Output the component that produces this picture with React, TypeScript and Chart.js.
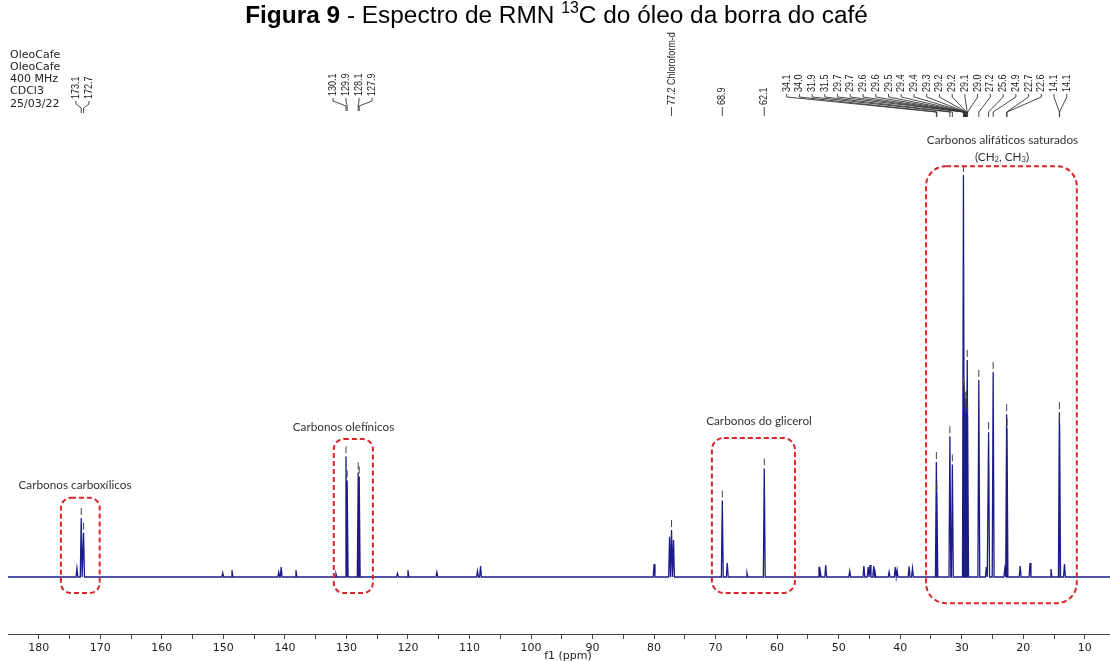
import React, { useEffect, useRef } from "react";
import { Chart, registerables } from "chart.js";

Chart.register(...registerables);

// ---- data (ppm, relative intensity, tallest = 100) ----
const peakShift = [
  173.8, 173.1, 172.72, 150.1, 148.6, 141.0, 140.6, 138.2, 131.7, 130.07, 129.88,
  128.08, 127.92, 121.7, 120.0, 115.3, 108.7, 108.2, 80.0, 77.48, 77.16, 76.84,
  68.91, 68.1, 64.9, 62.09, 53.2, 53.0, 52.1, 48.2, 45.9, 45.2, 44.9, 44.3, 44.1,
  41.8, 40.8, 40.5, 38.55, 38.0, 34.12, 34.04, 31.92, 31.52, 29.72, 29.68, 29.62,
  29.57, 29.53, 29.43, 29.38, 29.34, 29.23, 29.2, 29.1, 29.04, 27.22, 26.0, 25.63,
  24.89, 23.0, 22.7, 22.64, 20.5, 18.9, 15.5, 14.13, 14.09, 13.3,
];
const peakHeight = [
  2.2, 14.7, 11, 1.0, 1.7, 1.2, 2.5, 1.7, 0.8, 30, 24,
  26, 25, 0.9, 1.7, 1.2, 1.5, 2.7, 3.2, 10, 11.7, 9.2,
  19, 3.5, 1.0, 27, 2.5, 1.5, 3.0, 1.5, 2.7, 2.5, 3.0, 2.7, 2.0,
  1.3, 2.5, 1.7, 2.6, 2.2, 28.6, 21, 35, 28, 100, 47, 46,
  44, 45, 42, 40, 41, 44, 42, 54, 40, 49, 2.5, 36,
  51, 2.0, 40.5, 37, 2.7, 3.5, 2.0, 41, 38, 3.2,
];

// picked peaks shown as labels above the spectrum
const pickCarboxyl = [173.1, 172.72];
const pickOlefin = [130.07, 129.88, 128.08, 127.92];
const pickSingle = [77.16, 68.91, 62.09];
const singleSuffix = [" Chloroform-d", "", ""];
const pickAliphatic = [
  34.12, 34.04, 31.92, 31.52, 29.72, 29.68, 29.62, 29.57, 29.53, 29.43, 29.38,
  29.34, 29.23, 29.2, 29.1, 29.04, 27.22, 25.63, 24.89, 22.7, 22.64, 14.13, 14.09,
];

const xTickValues = [180, 170, 160, 150, 140, 130, 120, 110, 100, 90, 80, 70, 60, 50, 40, 30, 20, 10];
const infoLines = ["OleoCafe", "OleoCafe", "400 MHz", "CDCl3", "25/03/22"];

const X_MIN = 5.9;
const X_MAX = 185;
const PEAK_HALF_WIDTH = 0.15;

function buildPoints() {
  const order = peakShift.map((_, i) => i).sort((a, b) => peakShift[b] - peakShift[a]);
  const pts: { x: number; y: number }[] = [{ x: X_MAX, y: 0 }];
  for (const i of order) {
    pts.push({ x: peakShift[i] + PEAK_HALF_WIDTH, y: 0 });
    pts.push({ x: peakShift[i], y: peakHeight[i] });
    pts.push({ x: peakShift[i] - PEAK_HALF_WIDTH, y: 0 });
  }
  pts.push({ x: X_MIN, y: 0 });
  return pts;
}

function heightAt(s: number) {
  let best = 0;
  let d = Infinity;
  peakShift.forEach((p, i) => {
    if (Math.abs(p - s) < d) {
      d = Math.abs(p - s);
      best = i;
    }
  });
  return peakHeight[best];
}

const RED = "#d8262a";
const NAVY = "#1c1c88";

const overlay = {
  id: "overlay",
  afterDraw(chart: any) {
    const ctx: CanvasRenderingContext2D = chart.ctx;
    const xs = chart.scales.x;
    const ys = chart.scales.y;
    const X = (v: number) => xs.getPixelForValue(v);
    const Y = (v: number) => ys.getPixelForValue(v);
    ctx.save();

    // ---- title ----
    const parts = [
      { t: "Figura 9", w: "bold", sup: false },
      { t: " - Espectro de RMN ", w: "normal", sup: false },
      { t: "13", w: "normal", sup: true },
      { t: "C do óleo da borra do café", w: "normal", sup: false },
    ];
    const fam = "'Liberation Sans', Arial, sans-serif";
    const measure = (sz: number) =>
      parts.reduce((acc, p) => {
        ctx.font = `${p.w} ${p.sup ? sz * 0.65 : sz}px ${fam}`;
        return acc + ctx.measureText(p.t).width;
      }, 0);
    const tSize = (21 * 623) / measure(21);
    let tx = 556.5 - measure(tSize) / 2;
    ctx.fillStyle = "#000";
    ctx.textBaseline = "alphabetic";
    ctx.textAlign = "left";
    for (const p of parts) {
      const sz = p.sup ? tSize * 0.65 : tSize;
      ctx.font = `${p.w} ${sz}px ${fam}`;
      ctx.fillText(p.t, tx, p.sup ? 23 - tSize * 0.4 : 23);
      tx += ctx.measureText(p.t).width;
    }

    // ---- info text ----
    ctx.font = "11px 'DejaVu Sans', sans-serif";
    ctx.fillStyle = "#222";
    ctx.textBaseline = "middle";
    const infoY = [55, 67, 79, 91.5, 104];
    infoLines.forEach((l, i) => ctx.fillText(l, 10, infoY[i]));

    // ---- peak labels ----
    const lblFont = "11px 'Liberation Sans', Arial, sans-serif";
    const drawRot = (text: string, x: number, yb: number) => {
      ctx.save();
      ctx.translate(x, yb);
      ctx.rotate(-Math.PI / 2);
      ctx.scale(0.82, 1);
      ctx.font = lblFont;
      ctx.fillStyle = "#222";
      ctx.textAlign = "left";
      ctx.textBaseline = "middle";
      ctx.fillText(text, 0, 0);
      ctx.restore();
    };
    ctx.strokeStyle = "#333";
    ctx.lineWidth = 0.9;
    const line = (pts: number[][]) => {
      ctx.beginPath();
      ctx.moveTo(pts[0][0], pts[0][1]);
      for (let i = 1; i < pts.length; i++) ctx.lineTo(pts[i][0], pts[i][1]);
      ctx.stroke();
    };
    const group = (shifts: number[], startX: number, step: number, yb: number, yc: number) => {
      shifts.forEach((s, i) => {
        const lx = startX + i * step;
        const px = X(s);
        drawRot(s.toFixed(1), lx, yb);
        line([
          [lx, yb + 2],
          [lx, yb + 5],
          [px, yc],
          [px, yc + 5],
        ]);
      });
    };
    group(pickCarboxyl, 76, 13, 99, 108);
    group(pickOlefin, 333, 13, 96, 106);
    group(pickAliphatic, 786.7, 12.73, 92, 112);
    pickSingle.forEach((s, i) => {
      const px = X(s);
      drawRot(s.toFixed(1) + singleSuffix[i], px, 105);
      line([
        [px, 107],
        [px, 116],
      ]);
    });

    // ---- peak pick markers ----
    ctx.strokeStyle = "#444";
    ctx.lineWidth = 1;
    [...pickCarboxyl, ...pickOlefin, ...pickSingle, ...pickAliphatic].forEach((s) => {
      const px = X(s);
      const py = Y(heightAt(s));
      line([
        [px, py - 3],
        [px, py - 10],
      ]);
    });

    // ---- dashed boxes ----
    const boxes = [
      { x0: 176.4, x1: 170.1, y0: 19.7, y1: -4.0, r: 10 },
      { x0: 132.05, x1: 125.7, y0: 34.3, y1: -4.0, r: 10 },
      { x0: 70.6, x1: 57.1, y0: 34.6, y1: -4.0, r: 12 },
      { x0: 35.8, x1: 11.3, y0: 102.2, y1: -6.5, r: 20 },
    ];
    ctx.strokeStyle = RED;
    ctx.lineWidth = 2;
    ctx.setLineDash([5, 3]);
    boxes.forEach((b) => {
      const l = X(b.x0), r = X(b.x1), t = Y(b.y0), bt = Y(b.y1);
      ctx.beginPath();
      (ctx as any).roundRect(l, t, r - l, bt - t, b.r);
      ctx.stroke();
    });
    ctx.setLineDash([]);

    // ---- annotation texts ----
    const aFam = "Lato, 'Open Sans', sans-serif";
    ctx.font = `12px ${aFam}`;
    const aSize = (12 * 113) / ctx.measureText("Carbonos carboxílicos").width;
    ctx.font = `${aSize}px ${aFam}`;
    ctx.fillStyle = "#333";
    ctx.textAlign = "center";
    ctx.textBaseline = "middle";
    ctx.fillText("Carbonos carboxílicos", 75, 485);
    ctx.fillText("Carbonos olefínicos", 343.5, 427);
    ctx.fillText("Carbonos do glicerol", 759, 421);
    ctx.fillText("Carbonos alifáticos saturados", 1002.5, 140);
    // (CH2, CH3)
    const segs = [
      { t: "(CH", sub: false },
      { t: "2", sub: true },
      { t: ", CH", sub: false },
      { t: "3", sub: true },
      { t: ")", sub: false },
    ];
    const sw = segs.reduce((a, s) => {
      ctx.font = `${s.sub ? aSize * 0.65 : aSize}px ${aFam}`;
      return a + ctx.measureText(s.t).width;
    }, 0);
    let cx = 1002 - sw / 2;
    ctx.textAlign = "left";
    segs.forEach((s) => {
      ctx.font = `${s.sub ? aSize * 0.65 : aSize}px ${aFam}`;
      ctx.fillText(s.t, cx, s.sub ? 160 : 157);
      cx += ctx.measureText(s.t).width;
    });

    // ---- axis title ----
    ctx.font = "11px 'DejaVu Sans', sans-serif";
    ctx.fillStyle = "#222";
    ctx.textAlign = "center";
    ctx.fillText("f1 (ppm)", 568, 656);

    ctx.restore();
  },
};

export default function App() {
  const ref = useRef<HTMLCanvasElement | null>(null);
  useEffect(() => {
    if (!ref.current) return;
    const chart = new Chart(ref.current, {
      type: "line",
      data: {
        datasets: [
          {
            data: buildPoints(),
            borderColor: NAVY,
            borderWidth: 1.3,
            pointRadius: 0,
            fill: false,
            tension: 0,
          },
        ],
      },
      options: {
        responsive: false,
        animation: false,
        events: [],
        layout: { padding: { top: 130, left: 8, right: 0, bottom: 0 } },
        plugins: { legend: { display: false }, tooltip: { enabled: false } },
        scales: {
          x: {
            type: "linear",
            reverse: true,
            min: X_MIN,
            max: X_MAX,
            afterFit: (s: any) => {
              s.height = 27;
            },
            border: { display: true, color: "#444", width: 1 },
            grid: { drawOnChartArea: false, drawTicks: true, tickLength: 5, color: "#444" },
            ticks: {
              stepSize: 5,
              includeBounds: false,
              autoSkip: false,
              maxRotation: 0,
              color: "#222",
              font: { family: "'DejaVu Sans', sans-serif", size: 11 },
              callback: (v: any) => {
                const n = Math.round(Number(v));
                if (n < 8 || n > 182) return null;
                if (xTickValues.includes(n)) return String(n);
                return "";
              },
            },
          },
          y: { display: false, min: -14.18, max: 111.19 },
        },
      },
      plugins: [overlay],
    });
    return () => chart.destroy();
  }, []);
  return (
    <div style={{ position: "fixed", left: 0, top: 0, width: 1110, height: 661, background: "#fff" }}>
      <canvas ref={ref} width={1110} height={661} />
    </div>
  );
}
